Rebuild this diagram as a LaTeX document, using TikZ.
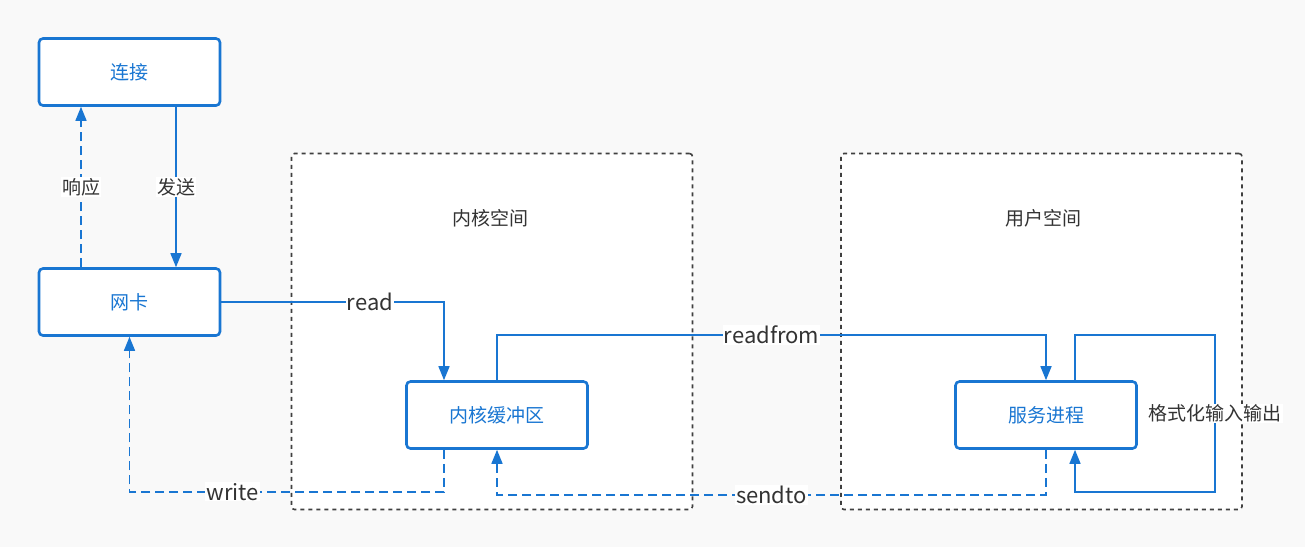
\documentclass[tikz,border=0pt]{standalone}
\usepackage{fontspec}
\setmainfont{Noto Sans CJK SC}
\usepackage{tikz}
\usetikzlibrary{arrows.meta}
\definecolor{lineblue}{HTML}{1976D2}
\definecolor{textgray}{HTML}{333333}
\definecolor{edgegray}{HTML}{404040}
\definecolor{bggray}{HTML}{F9F9F9}

\begin{document}
\begin{tikzpicture}[x=1pt, y=-1pt, line width=1.5pt,
  box/.style={draw=lineblue, line width=2.6pt, rounded corners=4pt, fill=white,
    minimum width=181pt, minimum height=67pt, text=lineblue,
    font=\fontsize{19}{23}\selectfont},
  space/.style={draw=edgegray, line width=1.6pt, dash pattern=on 4pt off 4pt,
    rounded corners=3pt, fill=white, minimum width=401pt, minimum height=356pt},
  title/.style={text=textgray, font=\fontsize{19}{23}\selectfont},
  link/.style={draw=lineblue, line width=1.5pt, -{Triangle[length=14pt,width=11pt]}},
  back/.style={link, dash pattern=on 9pt off 5pt},
  lbl/.style={fill=white, inner sep=1pt, text=textgray, font=\fontsize{19}{23}\selectfont},
  word/.style={lbl, font=\fontsize{22}{26}\selectfont}]
  % Background
  \fill[bggray] (0,0) rectangle (1305,547);
  \useasboundingbox (0,0) rectangle (1305,547);
  % Kernel and user spaces
  \node[space] (kspace) at (492,331.5) {};
  \node[space] (uspace) at (1041.5,331.5) {};
  \node[title] (ktitle) at (490,218) {内核空间};
  \node[title] (utitle) at (1043,218) {用户空间};
  % Boxes
  \node[box] (conn) at (129.5,72) {连接};
  \node[box] (nic)  at (129.5,302) {网卡};
  \node[box] (buf)  at (497,415) {内核缓冲区};
  \node[box] (proc) at (1046,415) {服务进程};
  % Connection and NIC
  \draw[link] ([xshift=46.5pt]conn.south) -- node[lbl]{发送} ([xshift=46.5pt]nic.north);
  \draw[back] ([xshift=-48.5pt]nic.north) -- node[lbl]{响应} ([xshift=-48.5pt]conn.south);
  % Kernel side
  \draw[link] (nic.east) -| node[pos=0.334, word]{read} ([xshift=-53pt]buf.north);
  \draw[back] ([xshift=-53pt]buf.south) -- ++(0,42) -| node[pos=0.336, word]{write} (nic.south);
  % Kernel <-> user
  \draw[link] (buf.north) -- ++(0,-45) -| node[pos=0.25, word]{readfrom} (proc.north);
  \draw[back] (proc.south) -- ++(0,45) -| node[pos=0.25, word]{sendto} (buf.south);
  % Formatting loop
  \draw[link] ([xshift=29pt]proc.north) -- ++(0,-45) -- ++(140,0)
    -- node[lbl]{格式化输入输出} ++(0,157) -| ([xshift=29pt]proc.south);
\end{tikzpicture}
\end{document}
